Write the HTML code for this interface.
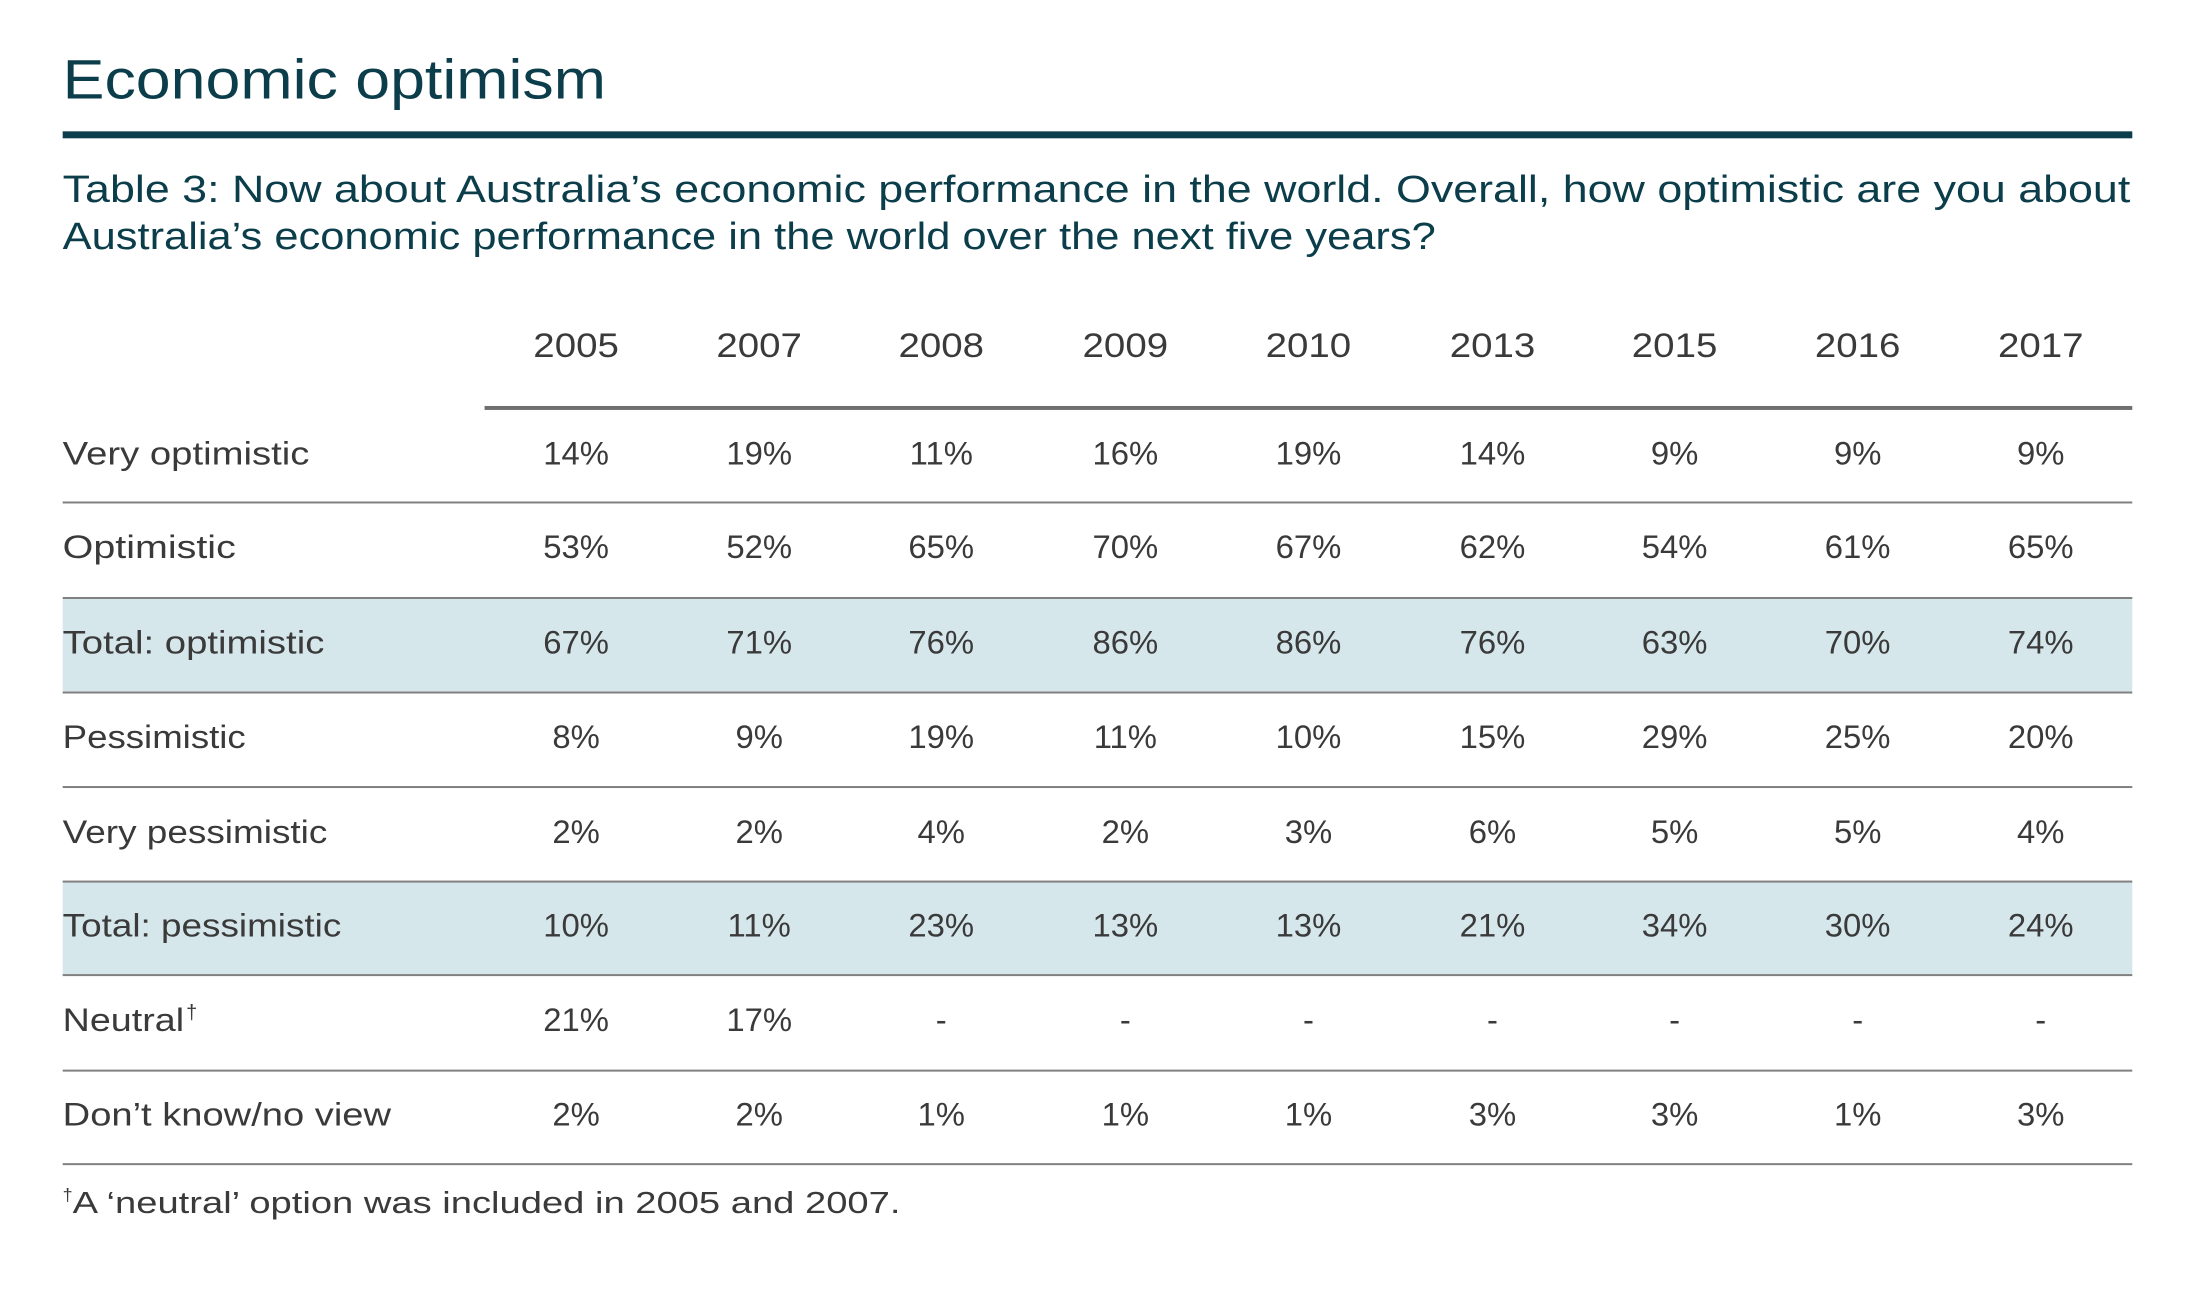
<!DOCTYPE html>
<html><head><meta charset="utf-8"><style>
html,body{margin:0;padding:0;background:#fff;}
svg{display:block;}
text{font-family:"Liberation Sans",sans-serif;}
</style></head><body>
<svg width="2196" height="1293" viewBox="0 0 2196 1293" xmlns="http://www.w3.org/2000/svg">
<g transform="scale(0.995)">
<text x="63" y="99" font-size="56" fill="#0b3d4b" textLength="546" lengthAdjust="spacingAndGlyphs">Economic optimism</text>
<rect x="63" y="132" width="2080" height="7" fill="#0b3d4b"/>
<text x="63" y="203" font-size="38" fill="#0b3d4b" textLength="2078" lengthAdjust="spacingAndGlyphs">Table 3: Now about Australia’s economic performance in the world. Overall, how optimistic are you about</text>
<text x="63" y="250" font-size="38" fill="#0b3d4b" textLength="1380" lengthAdjust="spacingAndGlyphs">Australia’s economic performance in the world over the next five years?</text>
<rect x="63" y="601" width="2080" height="95" fill="#d6e7ec"/>
<rect x="63" y="886" width="2080" height="94" fill="#d6e7ec"/>
<rect x="487" y="408" width="1656" height="4" fill="#6f6f6f"/>
<g fill="#808080">
<rect x="63" y="504" width="2080" height="2"/>
<rect x="63" y="600" width="2080" height="2"/>
<rect x="63" y="695" width="2080" height="2"/>
<rect x="63" y="790" width="2080" height="2"/>
<rect x="63" y="885" width="2080" height="2"/>
<rect x="63" y="979" width="2080" height="2"/>
<rect x="63" y="1075" width="2080" height="2"/>
<rect x="63" y="1169" width="2080" height="2"/>
</g>
<g font-size="34" fill="#3a3a3a" text-anchor="middle">
<text x="579" y="359" textLength="86" lengthAdjust="spacingAndGlyphs">2005</text><text x="763" y="359" textLength="86" lengthAdjust="spacingAndGlyphs">2007</text><text x="946" y="359" textLength="86" lengthAdjust="spacingAndGlyphs">2008</text><text x="1131" y="359" textLength="86" lengthAdjust="spacingAndGlyphs">2009</text><text x="1315" y="359" textLength="86" lengthAdjust="spacingAndGlyphs">2010</text><text x="1500" y="359" textLength="86" lengthAdjust="spacingAndGlyphs">2013</text><text x="1683" y="359" textLength="86" lengthAdjust="spacingAndGlyphs">2015</text><text x="1867" y="359" textLength="86" lengthAdjust="spacingAndGlyphs">2016</text><text x="2051" y="359" textLength="86" lengthAdjust="spacingAndGlyphs">2017</text>
</g>
<g font-size="33" fill="#3a3a3a">
<text x="63" y="467" textLength="248" lengthAdjust="spacingAndGlyphs">Very optimistic</text>
<text x="63" y="561" textLength="174" lengthAdjust="spacingAndGlyphs">Optimistic</text>
<text x="63" y="657" textLength="263" lengthAdjust="spacingAndGlyphs">Total: optimistic</text>
<text x="63" y="752" textLength="184" lengthAdjust="spacingAndGlyphs">Pessimistic</text>
<text x="63" y="847" textLength="266" lengthAdjust="spacingAndGlyphs">Very pessimistic</text>
<text x="63" y="941" textLength="280" lengthAdjust="spacingAndGlyphs">Total: pessimistic</text>
<text x="63" y="1036" textLength="122" lengthAdjust="spacingAndGlyphs">Neutral</text>
<text x="187" y="1024" font-size="20">†</text>
<text x="63" y="1131" textLength="330" lengthAdjust="spacingAndGlyphs">Don’t know/no view</text>
<text x="63" y="1207" font-size="18">†</text>
<text x="73" y="1219" font-size="31" textLength="832" lengthAdjust="spacingAndGlyphs">A ‘neutral’ option was included in 2005 and 2007.</text>
</g>
<g font-size="33" fill="#3a3a3a" text-anchor="middle">
<g transform="translate(0,467)"><text x="579">14%</text><text x="763">19%</text><text x="946">11%</text><text x="1131">16%</text><text x="1315">19%</text><text x="1500">14%</text><text x="1683">9%</text><text x="1867">9%</text><text x="2051">9%</text></g>
<g transform="translate(0,561)"><text x="579">53%</text><text x="763">52%</text><text x="946">65%</text><text x="1131">70%</text><text x="1315">67%</text><text x="1500">62%</text><text x="1683">54%</text><text x="1867">61%</text><text x="2051">65%</text></g>
<g transform="translate(0,657)"><text x="579">67%</text><text x="763">71%</text><text x="946">76%</text><text x="1131">86%</text><text x="1315">86%</text><text x="1500">76%</text><text x="1683">63%</text><text x="1867">70%</text><text x="2051">74%</text></g>
<g transform="translate(0,752)"><text x="579">8%</text><text x="763">9%</text><text x="946">19%</text><text x="1131">11%</text><text x="1315">10%</text><text x="1500">15%</text><text x="1683">29%</text><text x="1867">25%</text><text x="2051">20%</text></g>
<g transform="translate(0,847)"><text x="579">2%</text><text x="763">2%</text><text x="946">4%</text><text x="1131">2%</text><text x="1315">3%</text><text x="1500">6%</text><text x="1683">5%</text><text x="1867">5%</text><text x="2051">4%</text></g>
<g transform="translate(0,941)"><text x="579">10%</text><text x="763">11%</text><text x="946">23%</text><text x="1131">13%</text><text x="1315">13%</text><text x="1500">21%</text><text x="1683">34%</text><text x="1867">30%</text><text x="2051">24%</text></g>
<g transform="translate(0,1036)"><text x="579">21%</text><text x="763">17%</text><text x="946">-</text><text x="1131">-</text><text x="1315">-</text><text x="1500">-</text><text x="1683">-</text><text x="1867">-</text><text x="2051">-</text></g>
<g transform="translate(0,1131)"><text x="579">2%</text><text x="763">2%</text><text x="946">1%</text><text x="1131">1%</text><text x="1315">1%</text><text x="1500">3%</text><text x="1683">3%</text><text x="1867">1%</text><text x="2051">3%</text></g>
</g>
</g>
</svg>
</body></html>
